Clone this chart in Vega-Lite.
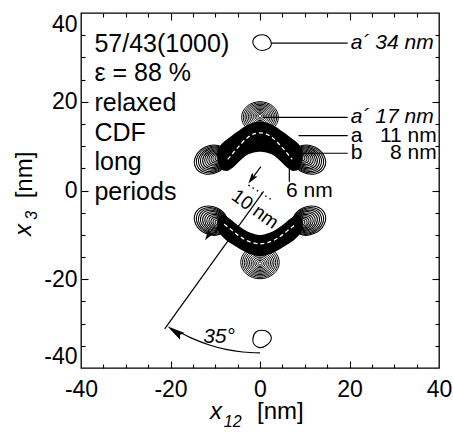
{
"$schema": "https://vega.github.io/schema/vega-lite/v6.json",
"width": 358,
"height": 355,
"autosize": {"type": "none"},
"padding": {"left": 81, "top": 13, "right": 14, "bottom": 64},
"background": "white",
"config": {
  "view": {"stroke": "#000", "strokeWidth": 1.3},
  "font": "Liberation Sans",
  "axis": {"grid": false, "domain": false, "labelColor": "#000", "tickColor": "#000", "labelFont": "Liberation Sans", "labelFontSize": 23, "tickWidth": 1.1}
},
"encoding": {
  "x": {"field": "x", "type": "quantitative", "scale": {"domain": [-40, 40], "nice": false, "zero": false}, "axis": null},
  "y": {"field": "y", "type": "quantitative", "scale": {"domain": [-40, 40], "nice": false, "zero": false}, "axis": null}
},
"datasets": {
  "bands": [
    {"g":"T","x":-9.5,"y":6.9,"y2":9.1},{"g":"T","x":-8.9,"y":5.3,"y2":10.1},{"g":"T","x":-8.2,"y":4.5,"y2":10.9},{"g":"T","x":-7.4,"y":4.4,"y2":11.5},{"g":"T","x":-6.6,"y":4.8,"y2":12.1},{"g":"T","x":-5.6,"y":5.6,"y2":12.9},{"g":"T","x":-4.6,"y":6.6,"y2":13.6},{"g":"T","x":-3.6,"y":7.5,"y2":14.3},{"g":"T","x":-2.6,"y":8.15,"y2":14.85},{"g":"T","x":-1.6,"y":8.5,"y2":15.25},{"g":"T","x":-0.6,"y":8.7,"y2":15.5},{"g":"T","x":0,"y":8.75,"y2":15.55},{"g":"T","x":0.6,"y":8.7,"y2":15.5},{"g":"T","x":1.6,"y":8.5,"y2":15.25},{"g":"T","x":2.6,"y":8.15,"y2":14.85},{"g":"T","x":3.6,"y":7.5,"y2":14.3},{"g":"T","x":4.6,"y":6.6,"y2":13.6},{"g":"T","x":5.6,"y":5.6,"y2":12.9},{"g":"T","x":6.6,"y":4.8,"y2":12.1},{"g":"T","x":7.4,"y":4.4,"y2":11.5},{"g":"T","x":8.2,"y":4.5,"y2":10.9},{"g":"T","x":8.9,"y":5.3,"y2":10.1},{"g":"T","x":9.5,"y":6.9,"y2":9.1},
    {"g":"B","x":-9.5,"y":-6.6,"y2":-8.8},{"g":"B","x":-8.9,"y":-5.8,"y2":-9.8},{"g":"B","x":-8.2,"y":-5.5,"y2":-10.6},{"g":"B","x":-7.4,"y":-5.9,"y2":-11.35},{"g":"B","x":-6.6,"y":-6.5,"y2":-11.9},{"g":"B","x":-5.6,"y":-7.3,"y2":-12.5},{"g":"B","x":-4.6,"y":-8.1,"y2":-13.1},{"g":"B","x":-3.6,"y":-8.8,"y2":-13.7},{"g":"B","x":-2.6,"y":-9.35,"y2":-14.2},{"g":"B","x":-1.6,"y":-9.7,"y2":-14.55},{"g":"B","x":-0.6,"y":-9.95,"y2":-14.75},{"g":"B","x":0,"y":-10.0,"y2":-14.8},{"g":"B","x":0.6,"y":-9.95,"y2":-14.75},{"g":"B","x":1.6,"y":-9.7,"y2":-14.55},{"g":"B","x":2.6,"y":-9.35,"y2":-14.2},{"g":"B","x":3.6,"y":-8.8,"y2":-13.7},{"g":"B","x":4.6,"y":-8.1,"y2":-13.1},{"g":"B","x":5.6,"y":-7.3,"y2":-12.5},{"g":"B","x":6.6,"y":-6.5,"y2":-11.9},{"g":"B","x":7.4,"y":-5.9,"y2":-11.35},{"g":"B","x":8.2,"y":-5.5,"y2":-10.6},{"g":"B","x":8.9,"y":-5.8,"y2":-9.8},{"g":"B","x":9.5,"y":-6.6,"y2":-8.8}
  ],
  "ridges": [
    {"g":"T","x":-7.2,"y":7.0},{"g":"T","x":-5.8,"y":8.7},{"g":"T","x":-4.5,"y":10.2},{"g":"T","x":-2.8,"y":11.9},{"g":"T","x":-1.2,"y":12.8},{"g":"T","x":0,"y":13.0},{"g":"T","x":1.2,"y":12.8},{"g":"T","x":2.8,"y":11.9},{"g":"T","x":4.5,"y":10.2},{"g":"T","x":5.8,"y":8.7},{"g":"T","x":7.2,"y":7.0},
    {"g":"B","x":-8.0,"y":-7.6},{"g":"B","x":-6.6,"y":-8.7},{"g":"B","x":-5.0,"y":-10.0},{"g":"B","x":-3.3,"y":-11.1},{"g":"B","x":-1.5,"y":-11.8},{"g":"B","x":0,"y":-12.0},{"g":"B","x":1.5,"y":-11.8},{"g":"B","x":3.3,"y":-11.1},{"g":"B","x":5.0,"y":-10.0},{"g":"B","x":6.6,"y":-8.7},{"g":"B","x":8.0,"y":-7.6}
  ],
  "rings": [
    {"g":"TA","x":0,"y":16.8,"r":0.4},{"g":"TA","x":0,"y":16.77,"r":0.77},{"g":"TA","x":0,"y":16.74,"r":1.14},{"g":"TA","x":0,"y":16.71,"r":1.51},{"g":"TA","x":0,"y":16.68,"r":1.88},{"g":"TA","x":0,"y":16.65,"r":2.25},{"g":"TA","x":0,"y":16.62,"r":2.62},{"g":"TA","x":0,"y":16.59,"r":2.99},{"g":"TA","x":0,"y":16.56,"r":3.36},{"g":"TA","x":0,"y":16.53,"r":3.73},{"g":"TA","x":0,"y":16.5,"r":4.1},
    {"g":"BA","x":0,"y":-16.45,"r":0.4},{"g":"BA","x":0,"y":-16.43,"r":0.79},{"g":"BA","x":0,"y":-16.4,"r":1.18},{"g":"BA","x":0,"y":-16.38,"r":1.57},{"g":"BA","x":0,"y":-16.35,"r":1.96},{"g":"BA","x":0,"y":-16.33,"r":2.35},{"g":"BA","x":0,"y":-16.3,"r":2.74},{"g":"BA","x":0,"y":-16.28,"r":3.13},{"g":"BA","x":0,"y":-16.25,"r":3.52},{"g":"BA","x":0,"y":-16.23,"r":3.91},{"g":"BA","x":0,"y":-16.2,"r":4.3},
    {"g":"TL","x":-9.2,"y":7.4,"r":0.4},{"g":"TL","x":-9.35,"y":7.36,"r":0.72},{"g":"TL","x":-9.51,"y":7.32,"r":1.04},{"g":"TL","x":-9.66,"y":7.28,"r":1.35},{"g":"TL","x":-9.82,"y":7.24,"r":1.67},{"g":"TL","x":-9.97,"y":7.2,"r":1.99},{"g":"TL","x":-10.13,"y":7.15,"r":2.31},{"g":"TL","x":-10.28,"y":7.11,"r":2.63},{"g":"TL","x":-10.44,"y":7.07,"r":2.95},{"g":"TL","x":-10.59,"y":7.03,"r":3.26},{"g":"TL","x":-10.75,"y":6.99,"r":3.58},{"g":"TL","x":-10.9,"y":6.95,"r":3.9},
    {"g":"TR","x":9.2,"y":7.4,"r":0.4},{"g":"TR","x":9.35,"y":7.36,"r":0.72},{"g":"TR","x":9.51,"y":7.32,"r":1.04},{"g":"TR","x":9.66,"y":7.28,"r":1.35},{"g":"TR","x":9.82,"y":7.24,"r":1.67},{"g":"TR","x":9.97,"y":7.2,"r":1.99},{"g":"TR","x":10.13,"y":7.15,"r":2.31},{"g":"TR","x":10.28,"y":7.11,"r":2.63},{"g":"TR","x":10.44,"y":7.07,"r":2.95},{"g":"TR","x":10.59,"y":7.03,"r":3.26},{"g":"TR","x":10.75,"y":6.99,"r":3.58},{"g":"TR","x":10.9,"y":6.95,"r":3.9},
    {"g":"BL","x":-9.2,"y":-7.3,"r":0.4},{"g":"BL","x":-9.35,"y":-7.25,"r":0.72},{"g":"BL","x":-9.51,"y":-7.21,"r":1.04},{"g":"BL","x":-9.66,"y":-7.16,"r":1.35},{"g":"BL","x":-9.82,"y":-7.12,"r":1.67},{"g":"BL","x":-9.97,"y":-7.07,"r":1.99},{"g":"BL","x":-10.13,"y":-7.03,"r":2.31},{"g":"BL","x":-10.28,"y":-6.98,"r":2.63},{"g":"BL","x":-10.44,"y":-6.94,"r":2.95},{"g":"BL","x":-10.59,"y":-6.89,"r":3.26},{"g":"BL","x":-10.75,"y":-6.85,"r":3.58},{"g":"BL","x":-10.9,"y":-6.8,"r":3.9},
    {"g":"BR","x":9.2,"y":-7.3,"r":0.4},{"g":"BR","x":9.35,"y":-7.25,"r":0.72},{"g":"BR","x":9.51,"y":-7.21,"r":1.04},{"g":"BR","x":9.66,"y":-7.16,"r":1.35},{"g":"BR","x":9.82,"y":-7.12,"r":1.67},{"g":"BR","x":9.97,"y":-7.07,"r":1.99},{"g":"BR","x":10.13,"y":-7.03,"r":2.31},{"g":"BR","x":10.28,"y":-6.98,"r":2.63},{"g":"BR","x":10.44,"y":-6.94,"r":2.95},{"g":"BR","x":10.59,"y":-6.89,"r":3.26},{"g":"BR","x":10.75,"y":-6.85,"r":3.58},{"g":"BR","x":10.9,"y":-6.8,"r":3.9}
  ],
  "loops": [
    {"g":"s1","i":0,"x":-1.6,"y":33.3},{"g":"s1","i":1,"x":-0.9,"y":34.7},{"g":"s1","i":2,"x":0.6,"y":35.1},{"g":"s1","i":3,"x":1.9,"y":34.5},{"g":"s1","i":4,"x":2.5,"y":32.8},{"g":"s1","i":5,"x":1.3,"y":31.7},{"g":"s1","i":6,"x":-0.5,"y":31.8},
    {"g":"s2","i":0,"x":-1.6,"y":-33.5},{"g":"s2","i":1,"x":-1.05,"y":-32.0},{"g":"s2","i":2,"x":0.45,"y":-31.5},{"g":"s2","i":3,"x":1.9,"y":-32.0},{"g":"s2","i":4,"x":2.5,"y":-33.5},{"g":"s2","i":5,"x":1.3,"y":-35.0},{"g":"s2","i":6,"x":-0.15,"y":-35.4},{"g":"s2","i":7,"x":-1.3,"y":-34.7}
  ],
  "lines": [
    {"g":"L1","i":0,"x":2.5,"y":33.2},{"g":"L1","i":1,"x":19.6,"y":33.2},
    {"g":"L2","i":0,"x":0.6,"y":16.5},{"g":"L2","i":1,"x":19.6,"y":16.5},
    {"g":"L3","i":0,"x":8.6,"y":12.35},{"g":"L3","i":1,"x":19.6,"y":12.35},
    {"g":"L4","i":0,"x":7.8,"y":8.4},{"g":"L4","i":1,"x":19.6,"y":8.4},
    {"g":"L5","i":0,"x":6.55,"y":5.0},{"g":"L5","i":1,"x":6.55,"y":2.0},
    {"g":"L6","i":0,"x":0.8,"y":-0.2},{"g":"L6","i":1,"x":-21.3,"y":-31.2},
    {"g":"L7","i":0,"x":0.2,"y":5.4},{"g":"L7","i":1,"x":-2.0,"y":2.4},
    {"g":"L8","i":0,"x":0,"y":-36.6},{"g":"L8","i":1,"x":-3.83,"y":-36.4},{"g":"L8","i":2,"x":-7.61,"y":-35.8},{"g":"L8","i":3,"x":-11.31,"y":-34.81},{"g":"L8","i":4,"x":-14.89,"y":-33.44},{"g":"L8","i":5,"x":-18.3,"y":-31.7}
  ]
},
"layer": [
  {"data": {"name": "bands"}, "mark": {"type": "area", "color": "#000", "opacity": 1, "interpolate": "monotone"}, "encoding": {"y2": {"field": "y2"}, "detail": {"field": "g"}}},
  {"data": {"name": "rings"}, "transform": [{"filter": {"field": "g", "oneOf": ["TA", "BA"]}}],
   "mark": {"type": "point", "shape": "M -1 0 C -1 -0.469 -0.552 -0.85 0 -0.85 C 0.552 -0.85 1 -0.469 1 0 C 1 0.469 0.552 0.85 0 0.85 C -0.552 0.85 -1 0.469 -1 0 Z", "filled": false, "color": "#000", "strokeWidth": 1.0, "opacity": 1},
   "encoding": {"size": {"field": "r", "type": "quantitative", "scale": {"type": "pow", "exponent": 2, "domain": [0, 5], "range": [0, 2002.6]}, "legend": null}}},
  {"data": {"name": "rings"}, "transform": [{"filter": {"field": "g", "oneOf": ["TL", "BR"]}}],
   "mark": {"type": "point", "shape": "M -1 0 C -1 -0.442 -0.552 -0.8 0 -0.8 C 0.552 -0.8 1 -0.442 1 0 C 1 0.442 0.552 0.8 0 0.8 C -0.552 0.8 -1 0.442 -1 0 Z", "filled": false, "color": "#000", "strokeWidth": 1.05, "opacity": 1, "angle": 335},
   "encoding": {"size": {"field": "r", "type": "quantitative", "scale": {"type": "pow", "exponent": 2, "domain": [0, 5], "range": [0, 2002.6]}, "legend": null}}},
  {"data": {"name": "rings"}, "transform": [{"filter": {"field": "g", "oneOf": ["TR", "BL"]}}],
   "mark": {"type": "point", "shape": "M -1 0 C -1 -0.442 -0.552 -0.8 0 -0.8 C 0.552 -0.8 1 -0.442 1 0 C 1 0.442 0.552 0.8 0 0.8 C -0.552 0.8 -1 0.442 -1 0 Z", "filled": false, "color": "#000", "strokeWidth": 1.05, "opacity": 1, "angle": 25},
   "encoding": {"size": {"field": "r", "type": "quantitative", "scale": {"type": "pow", "exponent": 2, "domain": [0, 5], "range": [0, 2002.6]}, "legend": null}}},
  {"data": {"name": "ridges"}, "mark": {"type": "line", "color": "#fff", "strokeWidth": 1.3, "strokeDash": [4, 3], "interpolate": "monotone"}, "encoding": {"detail": {"field": "g"}}},
  {"data": {"name": "loops"}, "mark": {"type": "line", "color": "#000", "strokeWidth": 1.1, "interpolate": "cardinal-closed"}, "encoding": {"detail": {"field": "g"}, "order": {"field": "i", "type": "quantitative"}}},
  {"data": {"name": "lines"}, "mark": {"type": "line", "color": "#000", "strokeWidth": 1.2, "interpolate": "cardinal"}, "encoding": {"detail": {"field": "g"}, "order": {"field": "i", "type": "quantitative"}}},
  {"data": {"values": [{"x": -2.6, "y": 1.24}, {"x": 2.6, "y": -2.1}]}, "mark": {"type": "line", "color": "#000", "strokeWidth": 1.4, "strokeDash": [1.5, 3.5]}, "encoding": {}},
  {"data": {"values": [{"x": -20.7, "y": -30.6}]}, "mark": {"type": "point", "shape": "M 0 0 L 0.45 2 L 0 1.7 L -0.45 2 Z", "filled": true, "color": "#000", "size": 324, "angle": 304, "opacity": 1}},
  {"data": {"values": [{"x": -2.6, "y": 1.6}, {"x": -12.3, "y": -11.2}]}, "mark": {"type": "point", "shape": "M 0 0 L 0.6 2 L 0 1.6 L -0.6 2 Z", "filled": true, "color": "#000", "size": 121, "angle": 216, "opacity": 1}},
  {"data": {"values": [
    {"t": "57/43(1000)", "x": -37, "y": 31.3},
    {"t": "ε = 88 %", "x": -37, "y": 24.6},
    {"t": "relaxed", "x": -37, "y": 17.9},
    {"t": "CDF", "x": -37, "y": 11.25},
    {"t": "long", "x": -37, "y": 4.6},
    {"t": "periods", "x": -37, "y": -2.1}]},
   "mark": {"type": "text", "align": "left", "baseline": "alphabetic", "fontSize": 25, "font": "Liberation Sans", "color": "#000"},
   "encoding": {"text": {"field": "t"}}},
  {"data": {"values": [
    {"t": "a´ 34 nm", "x": 20.3, "y": 32.0},
    {"t": "a´ 17 nm", "x": 20.3, "y": 15.1},
    {"t": "35°", "x": -12.7, "y": -34.4}]},
   "mark": {"type": "text", "align": "left", "baseline": "alphabetic", "fontSize": 21, "fontStyle": "italic", "font": "Liberation Sans", "color": "#000"},
   "encoding": {"text": {"field": "t"}}},
  {"data": {"values": [
    {"t": "a", "x": 20.3, "y": 11.0},
    {"t": "b", "x": 20.3, "y": 7.0},
    {"t": "6 nm", "x": 5.8, "y": -1.4}]},
   "mark": {"type": "text", "align": "left", "baseline": "alphabetic", "fontSize": 21, "font": "Liberation Sans", "color": "#000"},
   "encoding": {"text": {"field": "t"}}},
  {"data": {"values": [
    {"t": "11 nm", "x": 39.5, "y": 11.0},
    {"t": "8 nm", "x": 39.5, "y": 7.0}]},
   "mark": {"type": "text", "align": "right", "baseline": "alphabetic", "fontSize": 21, "font": "Liberation Sans", "color": "#000"},
   "encoding": {"text": {"field": "t"}}},
  {"data": {"values": [{"t": "10 nm", "x": -1.1, "y": -4.2}]},
   "mark": {"type": "text", "align": "center", "baseline": "middle", "fontSize": 19, "angle": 36, "font": "Liberation Sans", "color": "#000"},
   "encoding": {"text": {"field": "t"}}},
  {"data": {"values": [{"t": "x", "x": -11.2, "y": -51.6}]},
   "mark": {"type": "text", "align": "left", "baseline": "alphabetic", "fontSize": 24, "fontStyle": "italic", "font": "Liberation Sans", "color": "#000"},
   "encoding": {"text": {"field": "t"}}},
  {"data": {"values": [{"t": "12", "x": -8.1, "y": -53.2}]},
   "mark": {"type": "text", "align": "left", "baseline": "alphabetic", "fontSize": 16, "fontStyle": "italic", "font": "Liberation Sans", "color": "#000"},
   "encoding": {"text": {"field": "t"}}},
  {"data": {"values": [{"t": "[nm]", "x": -0.67, "y": -51.6}]},
   "mark": {"type": "text", "align": "left", "baseline": "alphabetic", "fontSize": 24, "font": "Liberation Sans", "color": "#000"},
   "encoding": {"text": {"field": "t"}}},
  {"data": {"values": [{"t": "x", "x": -51.2, "y": -8.9}]},
   "mark": {"type": "text", "align": "center", "baseline": "alphabetic", "angle": 270, "fontSize": 24, "fontStyle": "italic", "font": "Liberation Sans", "color": "#000"},
   "encoding": {"text": {"field": "t"}}},
  {"data": {"values": [{"t": "3", "x": -49.8, "y": -5.6}]},
   "mark": {"type": "text", "align": "center", "baseline": "alphabetic", "angle": 270, "fontSize": 16, "fontStyle": "italic", "font": "Liberation Sans", "color": "#000"},
   "encoding": {"text": {"field": "t"}}},
  {"data": {"values": [{"t": "[nm]", "x": -50.9, "y": 3.5}]},
   "mark": {"type": "text", "align": "center", "baseline": "alphabetic", "angle": 270, "fontSize": 24, "font": "Liberation Sans", "color": "#000"},
   "encoding": {"text": {"field": "t"}}},
  {"data": {"values": [{"x": 0, "y": 0}]}, "mark": {"type": "point", "opacity": 0},
   "encoding": {
     "x": {"field": "x", "type": "quantitative", "scale": {"domain": [-40, 40], "nice": false, "zero": false}, "axis": {"orient": "bottom", "values": [-40, -20, 0, 20, 40], "labelExpr": "'' + datum.value", "ticks": false, "labelPadding": 10, "labelFlush": false, "labelOverlap": false, "title": null}},
     "y": {"field": "y", "type": "quantitative", "scale": {"domain": [-40, 40], "nice": false, "zero": false}, "axis": {"orient": "left", "values": [-40, -20, 0, 20, 40], "labelExpr": "'' + datum.value", "ticks": false, "labelPadding": 4, "labelFlush": true, "labelOverlap": false, "title": null}}}},
  {"data": {"values": [{"x": 0, "y": 0}]}, "mark": {"type": "point", "opacity": 0},
   "encoding": {
     "x": {"field": "x", "type": "quantitative", "scale": {"domain": [-40, 40], "nice": false, "zero": false}, "axis": {"orient": "bottom", "values": [-20, 0, 20], "labels": false, "ticks": true, "tickSize": 7, "offset": -7, "title": null}},
     "y": {"field": "y", "type": "quantitative", "scale": {"domain": [-40, 40], "nice": false, "zero": false}, "axis": {"orient": "left", "values": [-20, 0, 20], "labels": false, "ticks": true, "tickSize": 7, "offset": -7, "title": null}}}},
  {"data": {"values": [{"x": 0, "y": 0}]}, "mark": {"type": "point", "opacity": 0},
   "encoding": {
     "x": {"field": "x", "type": "quantitative", "scale": {"domain": [-40, 40], "nice": false, "zero": false}, "axis": {"orient": "bottom", "values": [-35, -30, -25, -15, -10, -5, 5, 10, 15, 25, 30, 35], "labels": false, "ticks": true, "tickSize": 4, "offset": -4, "title": null}},
     "y": {"field": "y", "type": "quantitative", "scale": {"domain": [-40, 40], "nice": false, "zero": false}, "axis": {"orient": "left", "values": [-35, -30, -25, -15, -10, -5, 5, 10, 15, 25, 30, 35], "labels": false, "ticks": true, "tickSize": 4, "offset": -4, "title": null}}}},
  {"data": {"values": [{"x": 0, "y": 0}]}, "mark": {"type": "point", "opacity": 0},
   "encoding": {
     "x": {"field": "x", "type": "quantitative", "scale": {"domain": [-40, 40], "nice": false, "zero": false}, "axis": {"orient": "top", "values": [-20, 0, 20], "labels": false, "ticks": true, "tickSize": 7, "offset": -7, "title": null}},
     "y": {"field": "y", "type": "quantitative", "scale": {"domain": [-40, 40], "nice": false, "zero": false}, "axis": {"orient": "right", "values": [-20, 0, 20], "labels": false, "ticks": true, "tickSize": 7, "offset": -7, "title": null}}}},
  {"data": {"values": [{"x": 0, "y": 0}]}, "mark": {"type": "point", "opacity": 0},
   "encoding": {
     "x": {"field": "x", "type": "quantitative", "scale": {"domain": [-40, 40], "nice": false, "zero": false}, "axis": {"orient": "top", "values": [-35, -30, -25, -15, -10, -5, 5, 10, 15, 25, 30, 35], "labels": false, "ticks": true, "tickSize": 4, "offset": -4, "title": null}},
     "y": {"field": "y", "type": "quantitative", "scale": {"domain": [-40, 40], "nice": false, "zero": false}, "axis": {"orient": "right", "values": [-35, -30, -25, -15, -10, -5, 5, 10, 15, 25, 30, 35], "labels": false, "ticks": true, "tickSize": 4, "offset": -4, "title": null}}}}
],
"resolve": {"axis": {"x": "independent", "y": "independent"}}
}
